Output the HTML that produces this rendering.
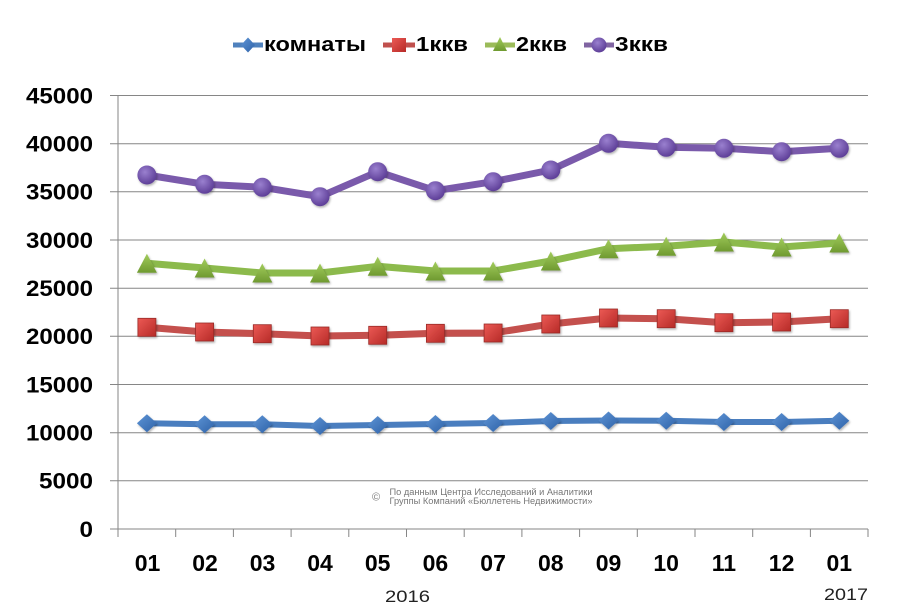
<!DOCTYPE html>
<html>
<head>
<meta charset="utf-8">
<style>
html,body{margin:0;padding:0;background:#fff;}
svg{display:block;}
text{font-family:"Liberation Sans",Arial,sans-serif;}
</style>
</head>
<body>
<svg width="900" height="611" viewBox="0 0 900 611" xmlns="http://www.w3.org/2000/svg">
<defs>
  <radialGradient id="gP" cx="40%" cy="35%" r="65%">
    <stop offset="0" stop-color="#9a80cf"/>
    <stop offset="1" stop-color="#5e3f98"/>
  </radialGradient>
  <linearGradient id="gR" x1="0" y1="0" x2="1" y2="1">
    <stop offset="0" stop-color="#ec5a55"/>
    <stop offset="1" stop-color="#b62a27"/>
  </linearGradient>
  <linearGradient id="gG" x1="0" y1="0" x2="0" y2="1">
    <stop offset="0" stop-color="#a2cc5c"/>
    <stop offset="1" stop-color="#6f9a30"/>
  </linearGradient>
  <linearGradient id="gB" x1="0" y1="0" x2="1" y2="1">
    <stop offset="0" stop-color="#5f95d6"/>
    <stop offset="1" stop-color="#2e62a8"/>
  </linearGradient>
  <filter id="sh" x="-30%" y="-30%" width="160%" height="160%">
    <feDropShadow dx="1" dy="1.5" stdDeviation="1" flood-color="#000" flood-opacity="0.3"/>
  </filter>
</defs>

<!-- Legend -->
<g>
  <line x1="233" y1="45" x2="263" y2="45" stroke="#4f81bd" stroke-width="5"/>
  <polygon points="248,37.5 255,45 248,52.5 241,45" fill="url(#gB)"/>
  <text x="264" y="51" font-size="20" font-weight="bold" fill="#000" textLength="102" lengthAdjust="spacingAndGlyphs">комнаты</text>

  <line x1="383" y1="45" x2="415" y2="45" stroke="#c0504d" stroke-width="5"/>
  <rect x="392" y="38" width="14" height="14" fill="url(#gR)"/>
  <text x="416" y="51" font-size="20" font-weight="bold" fill="#000" textLength="52" lengthAdjust="spacingAndGlyphs">1ккв</text>

  <line x1="485" y1="45" x2="515" y2="45" stroke="#9bbb59" stroke-width="5"/>
  <polygon points="500,37 507,51 493,51" fill="url(#gG)"/>
  <text x="516" y="51" font-size="20" font-weight="bold" fill="#000" textLength="51" lengthAdjust="spacingAndGlyphs">2ккв</text>

  <line x1="584" y1="45" x2="614" y2="45" stroke="#8064a2" stroke-width="5"/>
  <circle cx="599" cy="45" r="7.5" fill="url(#gP)"/>
  <text x="615" y="51" font-size="20" font-weight="bold" fill="#000" textLength="53" lengthAdjust="spacingAndGlyphs">3ккв</text>
</g>

<!-- Gridlines -->
<g stroke="#868686" stroke-width="1">
  <line x1="110" y1="95.5" x2="868" y2="95.5"/>
  <line x1="110" y1="143.7" x2="868" y2="143.7"/>
  <line x1="110" y1="191.8" x2="868" y2="191.8"/>
  <line x1="110" y1="240" x2="868" y2="240"/>
  <line x1="110" y1="288.2" x2="868" y2="288.2"/>
  <line x1="110" y1="336.3" x2="868" y2="336.3"/>
  <line x1="110" y1="384.5" x2="868" y2="384.5"/>
  <line x1="110" y1="432.7" x2="868" y2="432.7"/>
  <line x1="110" y1="480.8" x2="868" y2="480.8"/>
  <line x1="110" y1="529" x2="868" y2="529"/>
  <line x1="118" y1="95.5" x2="118" y2="537"/>
  <line x1="175.7" y1="529" x2="175.7" y2="537"/>
  <line x1="233.4" y1="529" x2="233.4" y2="537"/>
  <line x1="291.1" y1="529" x2="291.1" y2="537"/>
  <line x1="348.8" y1="529" x2="348.8" y2="537"/>
  <line x1="406.5" y1="529" x2="406.5" y2="537"/>
  <line x1="464.2" y1="529" x2="464.2" y2="537"/>
  <line x1="521.9" y1="529" x2="521.9" y2="537"/>
  <line x1="579.6" y1="529" x2="579.6" y2="537"/>
  <line x1="637.3" y1="529" x2="637.3" y2="537"/>
  <line x1="695" y1="529" x2="695" y2="537"/>
  <line x1="752.7" y1="529" x2="752.7" y2="537"/>
  <line x1="810.4" y1="529" x2="810.4" y2="537"/>
  <line x1="868" y1="529" x2="868" y2="537"/>
</g>

<!-- Y labels -->
<g font-size="22" font-weight="bold" fill="#000" text-anchor="end">
  <text x="93" y="103.5" textLength="67" lengthAdjust="spacingAndGlyphs">45000</text>
  <text x="93" y="151.5" textLength="67" lengthAdjust="spacingAndGlyphs">40000</text>
  <text x="93" y="199.5" textLength="67" lengthAdjust="spacingAndGlyphs">35000</text>
  <text x="93" y="248" textLength="67" lengthAdjust="spacingAndGlyphs">30000</text>
  <text x="93" y="296" textLength="67" lengthAdjust="spacingAndGlyphs">25000</text>
  <text x="93" y="344" textLength="67" lengthAdjust="spacingAndGlyphs">20000</text>
  <text x="93" y="392.5" textLength="67" lengthAdjust="spacingAndGlyphs">15000</text>
  <text x="93" y="440.5" textLength="67" lengthAdjust="spacingAndGlyphs">10000</text>
  <text x="93" y="488.5" textLength="54" lengthAdjust="spacingAndGlyphs">5000</text>
  <text x="93" y="537" textLength="13.5" lengthAdjust="spacingAndGlyphs">0</text>
</g>

<!-- X labels -->
<g font-size="23" font-weight="bold" fill="#000" text-anchor="middle">
  <text x="147.5" y="571">01</text>
  <text x="205" y="571">02</text>
  <text x="262.5" y="571">03</text>
  <text x="320" y="571">04</text>
  <text x="377.7" y="571">05</text>
  <text x="435.4" y="571">06</text>
  <text x="493.1" y="571">07</text>
  <text x="550.8" y="571">08</text>
  <text x="608.5" y="571">09</text>
  <text x="666.2" y="571">10</text>
  <text x="723.9" y="571">11</text>
  <text x="781.6" y="571">12</text>
  <text x="839.3" y="571">01</text>
</g>
<text x="385" y="602" font-size="17" fill="#222" textLength="45" lengthAdjust="spacingAndGlyphs">2016</text>
<text x="824" y="600" font-size="17" fill="#222" textLength="44" lengthAdjust="spacingAndGlyphs">2017</text>

<!-- Watermark -->
<text x="372" y="500.5" font-size="11" fill="#777">©</text>
<text x="389.5" y="495" font-size="9" fill="#777" textLength="203" lengthAdjust="spacingAndGlyphs">По данным Центра Исследований и Аналитики</text>
<text x="389.5" y="504" font-size="9" fill="#777" textLength="203" lengthAdjust="spacingAndGlyphs">Группы Компаний «Бюллетень Недвижимости»</text>

<!-- Series lines -->
<g fill="none" stroke-linejoin="round">
  <polyline stroke="#7a5aab" stroke-width="7" points="146.9,175 204.6,184.3 262.3,187.3 320,196.7 377.7,171.7 435.4,190.7 493.1,181.7 550.8,170 608.5,143.3 666.2,147.3 723.9,148.3 781.6,151.7 839.3,148.3"/>
  <polyline stroke="#8cba4c" stroke-width="7" points="146.9,263.3 204.6,268 262.3,273 320,273 377.7,266.3 435.4,271 493.1,271 550.8,261 608.5,248.7 666.2,246.3 723.9,242 781.6,247 839.3,243"/>
  <polyline stroke="#c4504d" stroke-width="7" points="146.9,327.3 204.6,332 262.3,333.7 320,336 377.7,335.3 435.4,333.3 493.1,333 550.8,324 608.5,318 666.2,318.7 723.9,322.7 781.6,322 839.3,318.7"/>
  <polyline stroke="#4a7ebf" stroke-width="6" points="146.9,423.3 204.6,424.3 262.3,424.3 320,426 377.7,425 435.4,424 493.1,423 550.8,421 608.5,420.5 666.2,420.7 723.9,422 781.6,422 839.3,420.7"/>
</g>

<!-- Purple circles -->
<g fill="url(#gP)" filter="url(#sh)">
  <circle cx="146.9" cy="175" r="9.5"/>
  <circle cx="204.6" cy="184.3" r="9.5"/>
  <circle cx="262.3" cy="187.3" r="9.5"/>
  <circle cx="320" cy="196.7" r="9.5"/>
  <circle cx="377.7" cy="171.7" r="9.5"/>
  <circle cx="435.4" cy="190.7" r="9.5"/>
  <circle cx="493.1" cy="181.7" r="9.5"/>
  <circle cx="550.8" cy="170" r="9.5"/>
  <circle cx="608.5" cy="143.3" r="9.5"/>
  <circle cx="666.2" cy="147.3" r="9.5"/>
  <circle cx="723.9" cy="148.3" r="9.5"/>
  <circle cx="781.6" cy="151.7" r="9.5"/>
  <circle cx="839.3" cy="148.3" r="9.5"/>
</g>

<!-- Green triangles -->
<g fill="url(#gG)" filter="url(#sh)">
  <polygon points="146.9,253.8 156.9,272.8 136.9,272.8"/>
  <polygon points="204.6,258.5 214.6,277.5 194.6,277.5"/>
  <polygon points="262.3,263.5 272.3,282.5 252.3,282.5"/>
  <polygon points="320,263.5 330,282.5 310,282.5"/>
  <polygon points="377.7,256.8 387.7,275.8 367.7,275.8"/>
  <polygon points="435.4,261.5 445.4,280.5 425.4,280.5"/>
  <polygon points="493.1,261.5 503.1,280.5 483.1,280.5"/>
  <polygon points="550.8,251.5 560.8,270.5 540.8,270.5"/>
  <polygon points="608.5,239.2 618.5,258.2 598.5,258.2"/>
  <polygon points="666.2,236.8 676.2,255.8 656.2,255.8"/>
  <polygon points="723.9,232.5 733.9,251.5 713.9,251.5"/>
  <polygon points="781.6,237.5 791.6,256.5 771.6,256.5"/>
  <polygon points="839.3,233.5 849.3,252.5 829.3,252.5"/>
</g>

<!-- Red squares -->
<g fill="url(#gR)" stroke="#9a2a27" stroke-width="0.8" filter="url(#sh)">
  <rect x="137.9" y="318.3" width="18" height="18"/>
  <rect x="195.6" y="323" width="18" height="18"/>
  <rect x="253.3" y="324.7" width="18" height="18"/>
  <rect x="311" y="327" width="18" height="18"/>
  <rect x="368.7" y="326.3" width="18" height="18"/>
  <rect x="426.4" y="324.3" width="18" height="18"/>
  <rect x="484.1" y="324" width="18" height="18"/>
  <rect x="541.8" y="315" width="18" height="18"/>
  <rect x="599.5" y="309" width="18" height="18"/>
  <rect x="657.2" y="309.7" width="18" height="18"/>
  <rect x="714.9" y="313.7" width="18" height="18"/>
  <rect x="772.6" y="313" width="18" height="18"/>
  <rect x="830.3" y="309.7" width="18" height="18"/>
</g>

<!-- Blue diamonds -->
<g fill="url(#gB)" filter="url(#sh)">
  <polygon points="146.9,414.3 156.9,423.3 146.9,432.3 136.9,423.3"/>
  <polygon points="204.6,415.3 214.6,424.3 204.6,433.3 194.6,424.3"/>
  <polygon points="262.3,415.3 272.3,424.3 262.3,433.3 252.3,424.3"/>
  <polygon points="320,417 330,426 320,435 310,426"/>
  <polygon points="377.7,416 387.7,425 377.7,434 367.7,425"/>
  <polygon points="435.4,415 445.4,424 435.4,433 425.4,424"/>
  <polygon points="493.1,414 503.1,423 493.1,432 483.1,423"/>
  <polygon points="550.8,412 560.8,421 550.8,430 540.8,421"/>
  <polygon points="608.5,411.5 618.5,420.5 608.5,429.5 598.5,420.5"/>
  <polygon points="666.2,411.7 676.2,420.7 666.2,429.7 656.2,420.7"/>
  <polygon points="723.9,413 733.9,422 723.9,431 713.9,422"/>
  <polygon points="781.6,413 791.6,422 781.6,431 771.6,422"/>
  <polygon points="839.3,411.7 849.3,420.7 839.3,429.7 829.3,420.7"/>
</g>
</svg>
</body>
</html>
